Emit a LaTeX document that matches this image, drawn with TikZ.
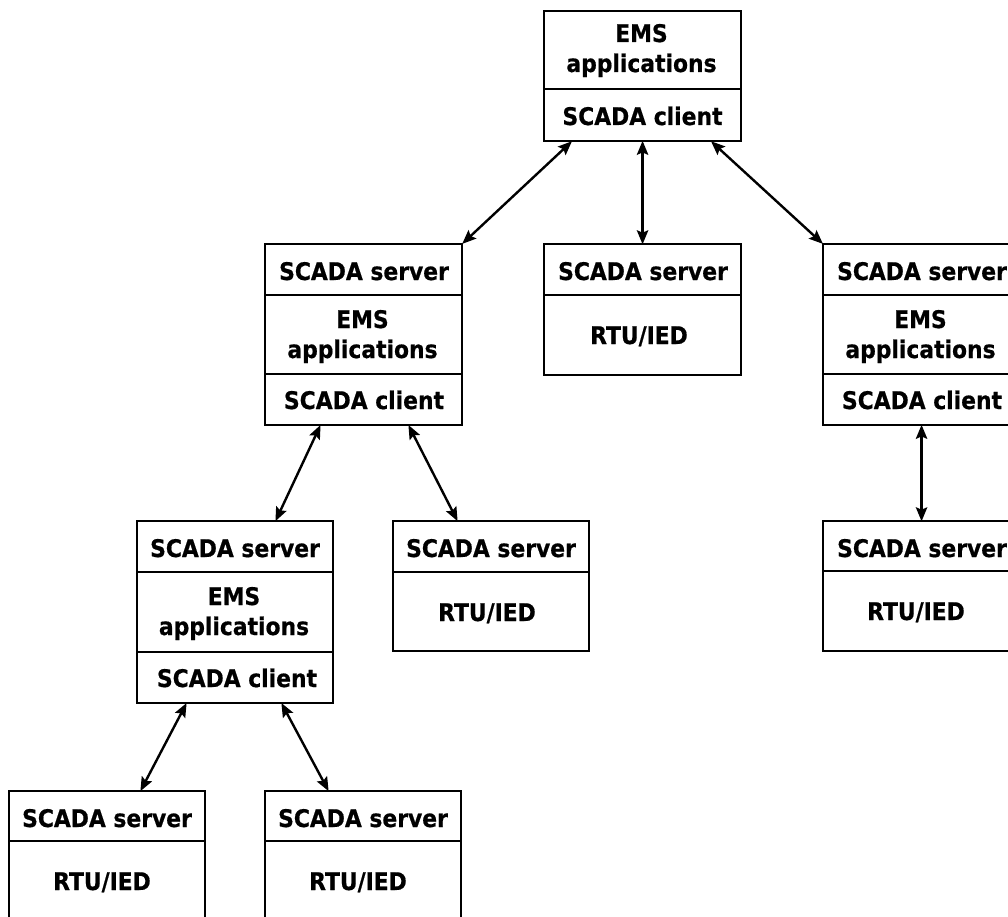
\documentclass[tikz,border=0pt]{standalone}
\usepackage{fontspec}
\newfontfamily\boxfont[FakeStretch=0.9,BoldFeatures={FakeBold=0.6}]{DejaVu Sans}
\usetikzlibrary{arrows.meta}

\tikzset{
  box/.style 2 args={draw, line width=1.6pt, inner sep=0pt, anchor=north west,
    minimum width=#1*0.75pt, minimum height=#2*0.75pt},
  divider/.style={line width=1.6pt},
  lbl/.style={anchor=base, inner sep=0pt, font=\boxfont\bfseries\fontsize{18.2pt}{22pt}\selectfont},
  link/.style={{Stealth[length=10.5pt,width=8.5pt,inset=1.8pt]}-{Stealth[length=10.5pt,width=8.5pt,inset=1.8pt]},
    line width=1.8pt, shorten <=-1pt, shorten >=-1pt},
}

\begin{document}
\begin{tikzpicture}[x=0.75pt,y=-0.75pt]
\useasboundingbox (0,0) rectangle (1008,917);
\clip (0,0) rectangle (1008,917);

% ---- top: EMS applications / SCADA client
\node[box={197}{130}] (T) at (543,10) {};
\draw[divider] (T.west |- 0,89) -- (T.east |- 0,89);
\node[lbl] (T1) at (641.5,42) {EMS};
\node[lbl] (T2) at (641.5,72) {applications};
\node[lbl] (T3) at (642.5,125) {SCADA client};

% ---- A: intermediate control centre (left)
\node[box={197}{181}] (A) at (264,243) {};
\draw[divider] (A.west |- 0,295) -- (A.east |- 0,295);
\draw[divider] (A.west |- 0,374) -- (A.east |- 0,374);
\node[lbl] (A1) at (364,280) {SCADA server};
\node[lbl] (A2) at (362.5,328) {EMS};
\node[lbl] (A3) at (362.5,358) {applications};
\node[lbl] (A4) at (364,409) {SCADA client};

% ---- B: RTU (centre)
\node[box={197}{131}] (B) at (543,243) {};
\draw[divider] (B.west |- 0,295) -- (B.east |- 0,295);
\node[lbl] (B1) at (643,280) {SCADA server};
\node[lbl] (B2) at (639,344) {RTU/IED};

% ---- C: intermediate control centre (right)
\node[box={197}{181}] (C) at (822,243) {};
\draw[divider] (C.west |- 0,295) -- (C.east |- 0,295);
\draw[divider] (C.west |- 0,374) -- (C.east |- 0,374);
\node[lbl] (C1) at (922,280) {SCADA server};
\node[lbl] (C2) at (920.5,328) {EMS};
\node[lbl] (C3) at (920.5,358) {applications};
\node[lbl] (C4) at (922,409) {SCADA client};

% ---- D: RTU under C
\node[box={197}{130}] (D) at (822,520) {};
\draw[divider] (D.west |- 0,571) -- (D.east |- 0,571);
\node[lbl] (D1) at (922,557) {SCADA server};
\node[lbl] (D2) at (916,620) {RTU/IED};

% ---- E: lower control centre
\node[box={196}{182}] (E) at (136,520) {};
\draw[divider] (E.west |- 0,572) -- (E.east |- 0,572);
\draw[divider] (E.west |- 0,652) -- (E.east |- 0,652);
\node[lbl] (E1) at (235,557) {SCADA server};
\node[lbl] (E2) at (234,605) {EMS};
\node[lbl] (E3) at (234,635) {applications};
\node[lbl] (E4) at (237,687) {SCADA client};

% ---- F: RTU under A
\node[box={196}{130}] (F) at (392,520) {};
\draw[divider] (F.west |- 0,572) -- (F.east |- 0,572);
\node[lbl] (F1) at (491,557) {SCADA server};
\node[lbl] (F2) at (487,621) {RTU/IED};

% ---- G, H: RTUs under E
\node[box={196}{140}] (G) at (8,790) {};
\draw[divider] (G.west |- 0,841) -- (G.east |- 0,841);
\node[lbl] (G1) at (107,827) {SCADA server};
\node[lbl] (G2) at (102,890) {RTU/IED};

\node[box={196}{140}] (H) at (264,790) {};
\draw[divider] (H.west |- 0,841) -- (H.east |- 0,841);
\node[lbl] (H1) at (363,827) {SCADA server};
\node[lbl] (H2) at (358,890) {RTU/IED};

% ---- links
\draw[link] ([xshift=21pt]T.south west) -- (A.north east);
\draw[link] (T.south) -- (B.north);
\draw[link] ([xshift=126.75pt]T.south west) -- (C.north west);
\draw[link] ([xshift=42pt]A.south west) -- ([xshift=105pt]E.north west);
\draw[link] ([xshift=108.75pt]A.south west) -- ([xshift=48.75pt]F.north west);
\draw[link] (C.south) -- (D.north);
\draw[link] ([xshift=37.5pt]E.south west) -- ([xshift=99.75pt]G.north west);
\draw[link] ([xshift=109.5pt]E.south west) -- ([xshift=48pt]H.north west);
\end{tikzpicture}
\end{document}
